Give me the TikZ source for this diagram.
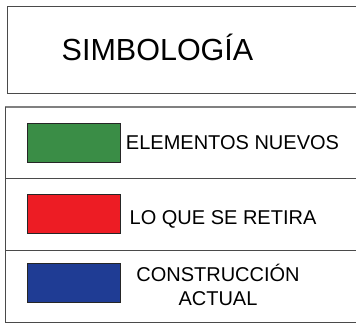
\documentclass[tikz,border=0pt]{standalone}
\usepackage{fontspec}
\setmainfont{Liberation Sans}
\definecolor{swgreen}{HTML}{3A8D46}
\definecolor{swred}{HTML}{ED1C24}
\definecolor{swblue}{HTML}{1F3C94}
\definecolor{frame}{HTML}{4A4A4A}
\begin{document}
\begin{tikzpicture}[x=1pt,y=1pt,
  swatch/.style={draw=black!85,line width=1pt,minimum width=93pt,minimum height=39pt,inner sep=0pt,anchor=north west},
  lbl/.style={font=\fontsize{20}{23.5}\selectfont,inner sep=0pt,anchor=base,align=center},
  boxline/.style={draw=frame,line width=1pt}]
\useasboundingbox (0,0) rectangle (356,324);
% title box
\draw[boxline] (360,317) -- (7,317) -- (7,230) -- (360,230);
\node[font=\fontsize{30.5}{36}\selectfont,inner sep=0pt,anchor=base] (title) at (157.5,263) {SIMBOLOGÍA};
% legend box
\draw[draw=frame!70,line width=1.4pt] (5,217) -- (360,217);
\draw[boxline] (5,217) -- (5,1.5) -- (360,1.5);
\draw[boxline] (5,145) -- (360,145);
\draw[boxline] (5,73.5) -- (360,73.5);
% swatches
\node[swatch,fill=swgreen] (green) at (27,201) {};
\node[swatch,fill=swred] (red) at (27,130) {};
\node[swatch,fill=swblue] (blue) at (27,61) {};
% labels
\node[lbl] (lnew) at (232.5,174) {ELEMENTOS NUEVOS};
\node[lbl] (lret) at (223,99) {LO QUE SE RETIRA};
\node[lbl] (lact) at (218,19) {CONSTRUCCIÓN\\ACTUAL};
\end{tikzpicture}
\end{document}
